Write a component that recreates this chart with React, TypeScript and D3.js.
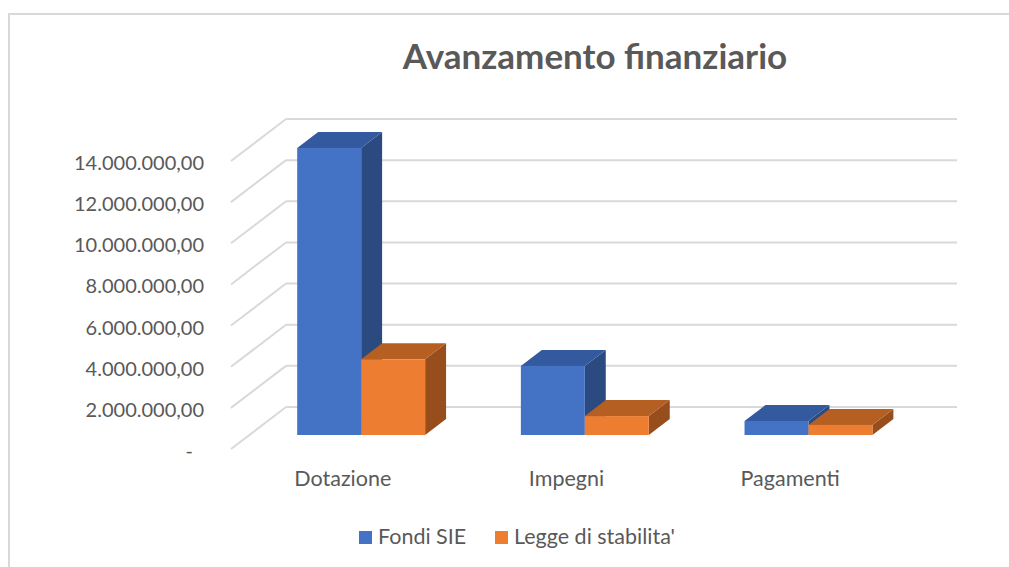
import React from "react";
import * as d3 from "d3";

// --- Data ---
const categories = ["Dotazione", "Impegni", "Pagamenti"];
const series = ["Fondi SIE", "Legge di stabilita'"];
const fondiSIE = [13950000, 3360000, 680000];
const leggeStabilita = [3680000, 920000, 490000];
const yTicks = [0, 2000000, 4000000, 6000000, 8000000, 10000000, 12000000, 14000000];

const W = 1009;
const H = 567;

// 3D look: floor front edge, depth vector of the side wall
const front = { left: 231, right: 902, bottom: 449 };
const depth = { dx: 55, dy: -42 };
const barDepth = { from: 1 / 3, to: 0.714 };

const faceColors = [
  { front: "#4472C4", top: "#335A9E", side: "#2B4A80" },
  { front: "#ED7D31", top: "#B65F22", side: "#974E1C" },
];

const fmt = (v: number) =>
  v === 0
    ? "-"
    : d3.format(",.2f")(v).replace(/,/g, "#").replace(".", ",").replace(/#/g, ".");

const App: React.FC = () => {
  const values = [fondiSIE, leggeStabilita];

  const y = d3.scaleLinear().domain([0, 14000000]).range([0, 288]);
  const x = d3.scaleBand().domain(categories).range([front.left, front.right]).padding(0);
  const bw = x.bandwidth();
  const xs = d3.scaleBand().domain(series).range([bw * 0.214, bw * 0.786]);

  const textColor = "#595959";
  const grid = "#d9d9d9";
  const font = "Lato, Carlito, sans-serif";

  const bars: React.ReactNode[] = [];
  categories.forEach((cat, ci) => {
    series.forEach((s, si) => {
      const v = values[si][ci];
      const ox1 = depth.dx * barDepth.from;
      const oy1 = depth.dy * barDepth.from;
      const ox2 = depth.dx * barDepth.to;
      const oy2 = depth.dy * barDepth.to;
      const x0 = x(cat)! + xs(s)! + ox1;
      const x1 = x0 + xs.bandwidth();
      const yb = front.bottom + oy1;
      const yt = yb - y(v);
      const ddx = ox2 - ox1;
      const ddy = oy2 - oy1;
      const c = faceColors[si];
      bars.push(
        <g key={cat + s}>
          <path
            d={`M${x1},${yb}L${x1 + ddx},${yb + ddy}L${x1 + ddx},${yt + ddy}L${x1},${yt}Z`}
            fill={c.side}
          />
          <path
            d={`M${x0},${yt}L${x0 + ddx},${yt + ddy}L${x1 + ddx},${yt + ddy}L${x1},${yt}Z`}
            fill={c.top}
          />
          <rect x={x0} y={yt} width={x1 - x0} height={yb - yt} fill={c.front} />
        </g>
      );
    });
  });

  return (
    <svg width={W} height={H} style={{ position: "absolute", left: 0, top: 0, background: "#fff" }}>
      <rect x={9} y={14} width={W + 10} height={H + 10} fill="#fff" stroke={grid} strokeWidth={2} />

      <text
        x={595}
        y={69}
        textAnchor="middle"
        fontFamily={font}
        fontWeight="bold"
        fontSize={35}
        fill={textColor}
      >
        Avanzamento finanziario
      </text>

      {/* gridlines: side wall diagonals + back wall */}
      {yTicks.map((t) => {
        const yf = front.bottom - y(t);
        return (
          <g key={t}>
            <line
              x1={front.left}
              y1={yf}
              x2={front.left + depth.dx}
              y2={yf + depth.dy}
              stroke={grid}
              strokeWidth={2}
            />
            <line
              x1={front.left + depth.dx}
              y1={yf + depth.dy}
              x2={front.right + depth.dx}
              y2={yf + depth.dy}
              stroke={grid}
              strokeWidth={2}
            />
            <text
              x={t === 0 ? 193 : 204}
              y={yf + 1}
              textAnchor="end"
              dominantBaseline="central"
              fontFamily={font}
              fontSize={20}
              fill={textColor}
            >
              {fmt(t)}
            </text>
          </g>
        );
      })}

      {bars}

      {categories.map((cat) => (
        <text
          key={cat}
          x={x(cat)! + bw / 2}
          y={486}
          textAnchor="middle"
          fontFamily={font}
          fontSize={21.5}
          fill={textColor}
        >
          {cat}
        </text>
      ))}

      {/* legend */}
      {series.map((s, i) => {
        const lx = [359, 495][i];
        return (
          <g key={s}>
            <rect x={lx} y={531} width={13} height={13} fill={faceColors[i].front} />
            <text x={lx + 19} y={544} fontFamily={font} fontSize={21.5} fill={textColor}>
              {s}
            </text>
          </g>
        );
      })}
    </svg>
  );
};

export default App;
